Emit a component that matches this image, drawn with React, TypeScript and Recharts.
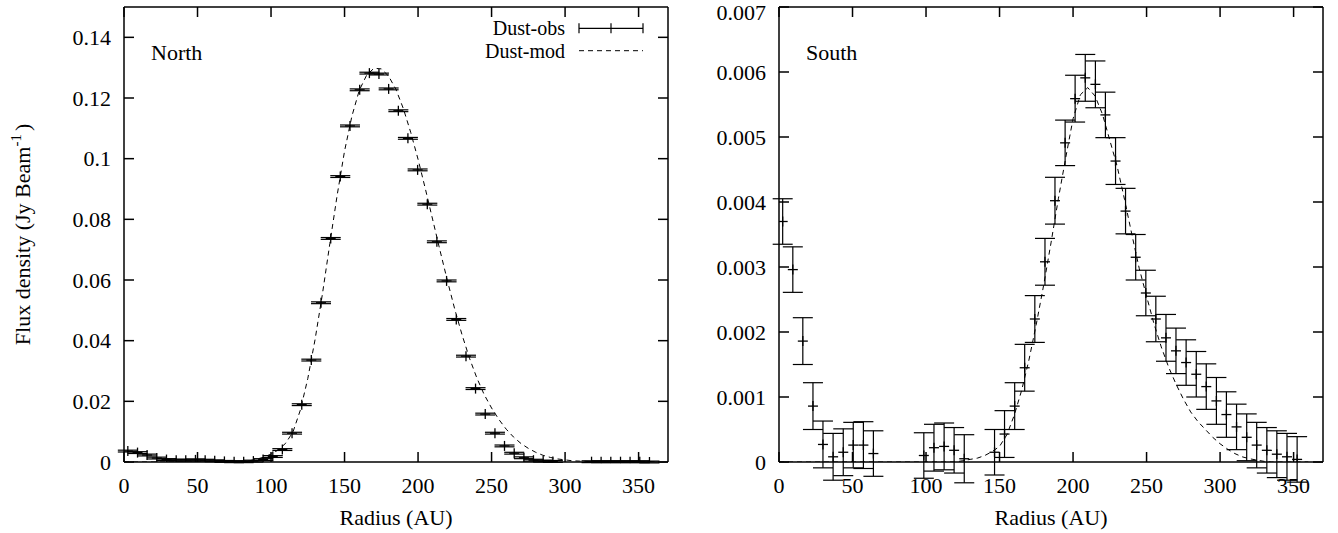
import { ComposedChart, Scatter, Line, XAxis, YAxis, ErrorBar, Legend } from 'recharts';

const FONT = "'Liberation Serif', 'Times New Roman', serif";
const INK = '#000';

const radiusTicks = [0, 50, 100, 150, 200, 250, 300, 350];
const northFluxTicks = [0, 0.02, 0.04, 0.06, 0.08, 0.1, 0.12, 0.14];
const southFluxTicks = [0, 0.001, 0.002, 0.003, 0.004, 0.005, 0.006, 0.007];

// North: observed profile (points below zero are off the plot)
const northObsRadius = [
  2.6, 9.2, 15.7, 22.3, 28.9, 35.5, 42.0, 48.6, 55.2, 61.7, 68.3, 74.9, 81.4, 88.0, 94.6,
  101.2, 107.7, 114.3, 120.9, 127.4, 134.0, 140.6, 147.1, 153.7, 160.3, 166.9, 173.4, 180.0,
  186.6, 193.1, 199.7, 206.3, 212.8, 219.4, 226.0, 232.6, 239.1, 245.7, 252.3, 258.8, 265.4,
  272.0, 278.5, 285.1, 291.7, 318.0, 324.5, 331.1, 337.7, 344.2, 350.8, 357.4,
];
const northObsFlux = [
  0.0036, 0.0031, 0.0023, 0.0013, 0.0008, 0.0006, 0.0006, 0.0007, 0.0006, 0.0004, 0.0002, 0.0001,
  0.0001, 0.0003, 0.0008, 0.0018, 0.0041, 0.0095, 0.0189, 0.0336, 0.0525, 0.0737, 0.0941, 0.1108,
  0.1227, 0.1282, 0.1279, 0.123, 0.1158, 0.1067, 0.0963, 0.085, 0.0726, 0.0597, 0.047, 0.0349,
  0.0242, 0.0158, 0.0095, 0.0053, 0.0029, 0.0014, 0.0006, 0.0003, 0.0002, 0.0001, 0.0001, 0.0001,
  0.0001, 0.0001, 0.0001, 0.0,
];
const northObsError = [
  0.0003, 0.0003, 0.0003, 0.0003, 0.0003, 0.0003, 0.0003, 0.0003, 0.0003, 0.0003, 0.0003, 0.0003,
  0.0003, 0.0003, 0.0003, 0.0003, 0.0003, 0.0003, 0.0003, 0.0003, 0.0003, 0.0003, 0.0003, 0.0003,
  0.0003, 0.0003, 0.0003, 0.0003, 0.0003, 0.0003, 0.0003, 0.0003, 0.0003, 0.0003, 0.0003, 0.0003,
  0.0003, 0.0003, 0.0003, 0.0003, 0.0003, 0.0003, 0.0003, 0.0003, 0.0003, 0.0003, 0.0003, 0.0003,
  0.0003, 0.0003, 0.0003, 0.0003,
];

// South: observed profile
const southObsRadius = [
  2.5, 9.4, 16.2, 23.1, 29.9, 36.8, 43.7, 50.5, 57.4, 64.2, 98.5, 105.4, 112.3, 119.1, 126.0,
  146.6, 153.4, 160.3, 167.1, 174.0, 180.9, 187.7, 194.6, 201.4, 208.3, 215.2, 222.0, 228.9,
  235.7, 242.6, 249.5, 256.3, 263.2, 270.0, 276.9, 283.8, 290.6, 297.5, 304.3, 311.2, 318.1,
  324.9, 331.8, 338.6, 345.5, 352.4,
];
const southObsFlux = [
  0.0037, 0.00296, 0.00186, 0.00086, 0.00027, 0.00008, 0.00015, 0.00026, 0.00026, 0.00013,
  0.0001, 0.00022, 0.00024, 0.00018, 0.00005, 0.00015, 0.00043, 0.00086, 0.00145, 0.0022,
  0.00308, 0.00402, 0.00491, 0.00559, 0.00591, 0.00581, 0.00534, 0.00463, 0.00386, 0.00315,
  0.0026, 0.0022, 0.00191, 0.00171, 0.00153, 0.00135, 0.00116, 0.00094, 0.00073, 0.00054,
  0.00038, 0.00026, 0.00018, 0.00012, 0.00008, 0.00004,
];
const southObsError = [
  0.00035, 0.00035, 0.00036, 0.00036, 0.00036, 0.00036, 0.00036, 0.00035, 0.00036, 0.00035,
  0.00035, 0.00036, 0.00036, 0.00035, 0.00037, 0.00035, 0.00036, 0.00036, 0.00036, 0.00036,
  0.00036, 0.00036, 0.00035, 0.00036, 0.00036, 0.00036, 0.00035, 0.00036, 0.00035, 0.00035,
  0.00035, 0.00035, 0.00036, 0.00035, 0.00035, 0.00035, 0.00035, 0.00036, 0.00035, 0.00035,
  0.00036, 0.00035, 0.00035, 0.00036, 0.00036, 0.00035,
];

// dust models, sampled every 5 AU
const modelRadius = [
  0, 5, 10, 15, 20, 25, 30, 35, 40, 45, 50, 55, 60, 65, 70, 75, 80, 85, 90, 95, 100, 105, 110,
  115, 120, 125, 130, 135, 140, 145, 150, 155, 160, 165, 170, 175, 180, 185, 190, 195, 200, 205,
  210, 215, 220, 225, 230, 235, 240, 245, 250, 255, 260, 265, 270, 275, 280, 285, 290, 295, 300,
  305, 310, 315, 320, 325, 330, 335, 340, 345, 350, 355, 360,
];
const northModelFlux = [
  0, 0, 0, 0, 0, 0, 0, 0, 0, 0, 0, 0, 0, 0, 0, 0.0001, 0.0002, 0.0004, 0.0009, 0.0016, 0.0026,
  0.004, 0.0062, 0.01, 0.0172, 0.0275, 0.0405, 0.0555, 0.072, 0.088, 0.1025, 0.114, 0.1225,
  0.1275, 0.1298, 0.1296, 0.1272, 0.1228, 0.1165, 0.1087, 0.0998, 0.09, 0.0798, 0.0696, 0.0597,
  0.0503, 0.0418, 0.0342, 0.0277, 0.0222, 0.0178, 0.014, 0.0108, 0.0082, 0.0061, 0.0045, 0.0032,
  0.0022, 0.0015, 0.001, 0.0007, 0.0004, 0.0003, 0.0002, 0.0001, 0, 0, 0, 0, 0, 0, 0, 0,
];
const southModelFlux = [
  0, 0, 0, 0, 0, 0, 0, 0, 0, 0, 0, 0, 0, 0, 0, 0, 0, 0, 0, 0, 0, 0, 0, 0, 0, 0.00002, 0.00004,
  0.00006, 0.0001, 0.00016, 0.00024, 0.00042, 0.00072, 0.0011, 0.00157, 0.00212, 0.00272,
  0.00337, 0.00405, 0.00468, 0.00528, 0.00565, 0.00576, 0.00563, 0.00535, 0.00495, 0.00455,
  0.00404, 0.0035, 0.00298, 0.00255, 0.00213, 0.00177, 0.00146, 0.0012, 0.00097, 0.00077,
  0.00062, 0.0005, 0.00038, 0.00028, 0.0002, 0.00013, 0.00008, 0.00005, 0.00003, 0.00001, 0, 0,
  0, 0, 0, 0,
];

const rows = (xs: number[], ys: number[], es?: number[]) =>
  xs.map((x, i) => ({ x, y: ys[i], err: es ? es[i] : 0 }));

const northObs = rows(northObsRadius, northObsFlux, northObsError);
const southObs = rows(southObsRadius, southObsFlux, southObsError);
const northModel = rows(modelRadius, northModelFlux);
const southModel = rows(modelRadius, southModelFlux);

const fmt = (v: number) => String(Number(v.toFixed(4)));

const textStyle = { fontFamily: FONT, fontSize: 22, fill: INK };
const legendText = { fontFamily: FONT, fontSize: 20, fill: INK };

const Plus = (props: any) => {
  const { cx, cy } = props;
  if (cx == null || cy == null) return null;
  return (
    <g stroke={INK} strokeWidth={1.3}>
      <line x1={cx - 5} x2={cx + 5} y1={cy} y2={cy} />
      <line x1={cx} x2={cx} y1={cy - 5} y2={cy + 5} />
    </g>
  );
};

// y tick label; the top one is nudged down so it stays inside the page
const FluxTick = (props: any) => {
  const { x, y, payload } = props;
  return (
    <text x={x} y={Math.max(y, 12)} dy="0.355em" textAnchor="end" style={textStyle}>
      {fmt(payload.value)}
    </text>
  );
};

const LegendBox = () => (
  <svg width={200} height={60} style={{ overflow: 'visible' }}>
    <text x={105} y={25} textAnchor="end" style={legendText}>Dust-obs</text>
    <text x={105} y={47.5} textAnchor="end" style={legendText}>Dust-mod</text>
    <g stroke={INK} strokeWidth={1.2}>
      <line x1={119} x2={183} y1={18.3} y2={18.3} />
      <line x1={119} x2={119} y1={13.3} y2={23.3} />
      <line x1={183} x2={183} y1={13.3} y2={23.3} />
      <line x1={151} x2={151} y1={13.3} y2={23.3} />
      <line x1={119} x2={183} y1={40.7} y2={40.7} strokeWidth={1} strokeDasharray="5 4" />
    </g>
  </svg>
);

const axisStyle = { stroke: INK, strokeWidth: 1.5 };
const tickStyle = { fill: INK, fontSize: 22, fontFamily: FONT, style: { fontFamily: FONT } };

type PanelProps = {
  name: string;
  obs: { x: number; y: number; err: number }[];
  model: { x: number; y: number; err: number }[];
  yMax: number;
  yTicks: number[];
  withLegend?: boolean;
  withYTitle?: boolean;
};

const Panel = ({ name, obs, model, yMax, yTicks, withLegend, withYTitle }: PanelProps) => (
  <ComposedChart
    width={680}
    height={533}
    margin={{ top: 6, right: 11, bottom: 0, left: 0 }}
    style={{ fontFamily: FONT }}
  >
    <XAxis
      xAxisId={0}
      type="number"
      dataKey="x"
      domain={[0, 370]}
      ticks={radiusTicks}
      interval={0}
      allowDataOverflow
      height={71}
      tickSize={-10}
      tickMargin={25}
      axisLine={axisStyle}
      tickLine={axisStyle}
      tick={tickStyle}
      label={() => (
        <text x={396} y={525} textAnchor="middle" style={textStyle}>
          Radius (AU)
        </text>
      )}
    />
    <XAxis
      xAxisId="top"
      orientation="top"
      type="number"
      dataKey="x"
      domain={[0, 370]}
      ticks={radiusTicks}
      interval={0}
      allowDataOverflow
      height={1}
      tickSize={-10}
      axisLine={axisStyle}
      tickLine={axisStyle}
      tickFormatter={() => ''}
      label={() => (
        <text x={151} y={60} style={textStyle}>
          {name}
        </text>
      )}
    />
    <YAxis
      yAxisId={0}
      type="number"
      domain={[0, yMax]}
      ticks={yTicks}
      interval={0}
      allowDataOverflow
      width={124}
      tickSize={-10}
      tickMargin={23}
      axisLine={axisStyle}
      tickLine={axisStyle}
      tick={<FluxTick />}
      label={
        withYTitle
          ? () => (
              <text
                x={30}
                y={234.5}
                transform="rotate(-90, 30, 234.5)"
                textAnchor="middle"
                style={textStyle}
              >
                Flux density (Jy Beam
                <tspan dy={-9} style={{ fontSize: 15 }}>-1</tspan>
                <tspan dy={9} dx={3}>)</tspan>
              </text>
            )
          : undefined
      }
    />
    <YAxis
      yAxisId="right"
      orientation="right"
      type="number"
      domain={[0, yMax]}
      ticks={yTicks}
      interval={0}
      allowDataOverflow
      width={1}
      tickSize={-10}
      axisLine={axisStyle}
      tickLine={axisStyle}
      tickFormatter={() => ''}
    />
    <Line
      data={model}
      dataKey="y"
      type="linear"
      stroke={INK}
      strokeWidth={1}
      strokeDasharray="5 4"
      dot={false}
      activeDot={false}
      isAnimationActive={false}
    />
    <Scatter data={obs} dataKey="y" shape={Plus} isAnimationActive={false}>
      <ErrorBar dataKey="err" direction="y" width={10} stroke={INK} strokeWidth={1.2} isAnimationActive={false} />
    </Scatter>
    {withLegend && (
      <Legend
        verticalAlign="middle"
        content={() => <LegendBox />}
        wrapperStyle={{ left: 460, top: 10, width: 200, height: 60 }}
      />
    )}
  </ComposedChart>
);

export default function App() {
  return (
    <div
      style={{
        position: 'absolute',
        left: 0,
        top: 0,
        width: 1338,
        height: 533,
        background: '#fff',
        fontFamily: FONT,
      }}
    >
      <div style={{ position: 'absolute', left: 0, top: 0 }}>
        <Panel
          name="North"
          obs={northObs}
          model={northModel}
          yMax={0.15}
          yTicks={northFluxTicks}
          withLegend
          withYTitle
        />
      </div>
      <div style={{ position: 'absolute', left: 655, top: 0 }}>
        <Panel name="South" obs={southObs} model={southModel} yMax={0.007} yTicks={southFluxTicks} />
      </div>
    </div>
  );
}
